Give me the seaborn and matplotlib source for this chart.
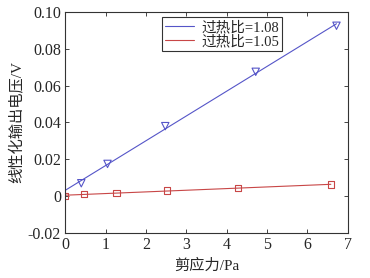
import numpy as np
import pandas as pd
import matplotlib
matplotlib.use("Agg")
import matplotlib.pyplot as plt
import seaborn as sns

# data
x_108 = [0.40, 1.05, 2.48, 4.72, 6.72]
y_108 = [0.0070, 0.0175, 0.0380, 0.0675, 0.0925]
x_105 = [0.0, 0.47, 1.27, 2.52, 4.28, 6.58]
y_105 = [0.0000, 0.0012, 0.0017, 0.0030, 0.0045, 0.0062]
labels = ["过热比=1.08", "过热比=1.05"]
xticks = [0, 1, 2, 3, 4, 5, 6, 7]
yticks = [-0.02, 0, 0.02, 0.04, 0.06, 0.08, 0.10]

sns.set_style("ticks")
plt.rcParams['font.family'] = ['Liberation Serif', 'Noto Sans CJK SC']
plt.rcParams['xtick.direction'] = 'in'
plt.rcParams['ytick.direction'] = 'in'

fig = plt.figure(figsize=(3.7, 2.78), dpi=100)
ax = fig.add_axes([0.176, 0.162, 0.764, 0.795])

blue = '#5555c8'
red = '#c84646'

def fit_line(xs, ys):
    k, b = np.polyfit(xs, ys, 1)
    xx = np.array([0, max(xs)])
    return pd.DataFrame({'x': xx, 'y': k * xx + b})

f1 = fit_line(x_108, y_108)
f2 = fit_line(x_105, y_105)
sns.lineplot(data=f1, x='x', y='y', color=blue, lw=0.8, ax=ax, label=labels[0])
sns.lineplot(data=f2, x='x', y='y', color=red, lw=0.8, ax=ax, label=labels[1])
sns.scatterplot(x=x_108, y=y_108, marker='v', s=28, facecolor='none',
                edgecolor=blue, linewidth=0.8, ax=ax)
sns.scatterplot(x=x_105, y=y_105, marker='s', s=22, facecolor='none',
                edgecolor=red, linewidth=0.8, ax=ax)

ax.set_xlim(0, 7)
ax.set_ylim(-0.02, 0.10)
ax.set_xticks(xticks)
ax.set_xticklabels([str(t) for t in xticks])
ax.set_yticks(yticks)
ax.set_yticklabels(['-0.02', '0', '0.02', '0.04', '0.06', '0.08', '0.10'])
ax.tick_params(axis='both', labelsize=11.5, length=3, width=0.6,
               top=True, right=True, pad=3)
for s in ax.spines.values():
    s.set_visible(True)
    s.set_linewidth(0.8)
    s.set_color('#333333')
ax.set_xlabel("剪应力/Pa", fontsize=11, labelpad=4)
ax.set_ylabel("线性化输出电压/V", fontsize=11, labelpad=3)

leg = ax.legend(loc='upper left', bbox_to_anchor=(0.343, 0.975), fontsize=10.5,
                frameon=True, fancybox=False, edgecolor='black',
                borderpad=0.2, labelspacing=0.05, handlelength=2.0,
                handletextpad=0.5, borderaxespad=0)
leg.get_frame().set_linewidth(0.8)

fig.savefig("out.png", dpi=100)
